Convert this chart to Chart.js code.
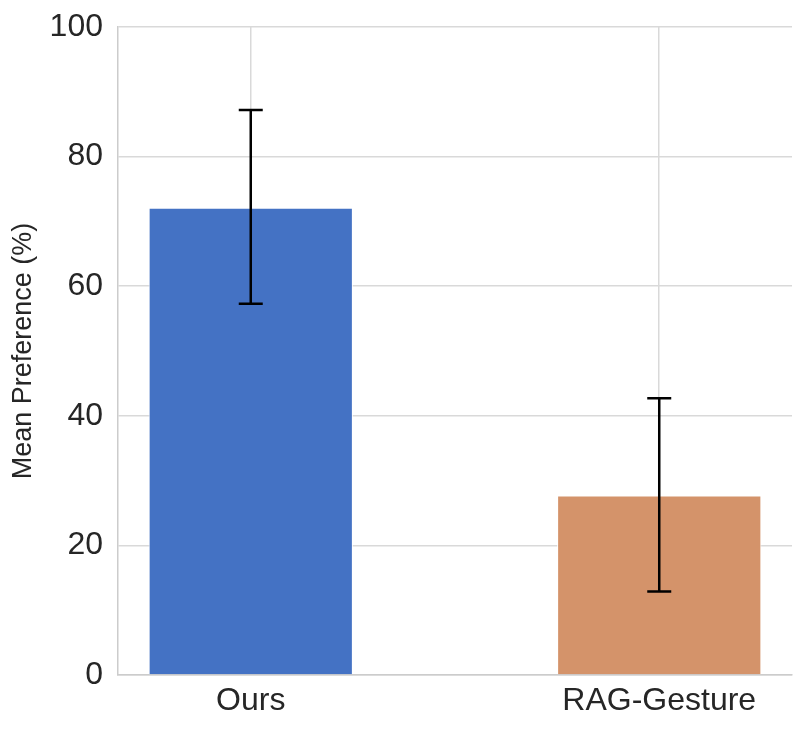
<!DOCTYPE html>
<html>
<head>
<meta charset="utf-8">
<script src="https://cdn.jsdelivr.net/npm/chart.js@4"></script>
<style>
  body { margin: 0; background: #fff; }
</style>
</head>
<body>
<canvas id="prefChart" width="806" height="736"></canvas>
<script>
var categories = ['Ours', 'RAG-Gesture'];
var means = [72.1, 27.7];
var errLow = [57.3, 12.9];
var errHigh = [87.2, 42.7];
var barColors = ['#4472C4', '#D4936A'];
var yTicks = [0, 20, 40, 60, 80, 100];

var textColor = '#262626';
var gridColor = '#d9d9d9';

// desenha as barras de erro por cima das barras
var errorBars = {
    id: 'errorBars',
    afterDatasetsDraw: function (chart) {
        var ctx = chart.ctx;
        var x = chart.scales.x;
        var y = chart.scales.y;
        ctx.save();
        ctx.strokeStyle = '#000';
        ctx.lineWidth = 2.5;
        for (var i = 0; i < categories.length; i++) {
            var px = x.getPixelForValue(i);
            var top = y.getPixelForValue(errHigh[i]);
            var bot = y.getPixelForValue(errLow[i]);
            ctx.beginPath();
            ctx.moveTo(px, top); ctx.lineTo(px, bot);
            ctx.moveTo(px - 12, top); ctx.lineTo(px + 12, top);
            ctx.moveTo(px - 12, bot); ctx.lineTo(px + 12, bot);
            ctx.stroke();
        }
        ctx.restore();
    }
};

var prefChart = new Chart(document.getElementById('prefChart').getContext('2d'), {
    type: 'bar',
    data: {
        datasets: [{
            data: means.map(function (v, i) { return { x: i, y: v }; }),
            backgroundColor: barColors,
            borderColor: '#ffffff',
            borderWidth: 1,
            barPercentage: 0.5,
            categoryPercentage: 1
        }]
    },
    options: {
        responsive: false,
        animation: false,
        layout: { padding: { top: 27, right: 14, left: 0, bottom: 0 } },
        plugins: {
            legend: { display: false },
            tooltip: { enabled: false }
        },
        scales: {
            x: {
                type: 'linear',
                offset: false,
                min: -0.325,
                max: 1.325,
                afterBuildTicks: function (scale) {
                    scale.ticks = categories.map(function (c, i) { return { value: i }; });
                },
                afterFit: function (scale) {
                    scale.height = 61;
                    scale.paddingLeft = 0;
                    scale.paddingRight = 0;
                },
                ticks: {
                    color: textColor,
                    font: { size: 32, family: 'Liberation Sans' },
                    padding: 7,
                    maxRotation: 0,
                    callback: function (value) { return categories[value]; }
                },
                grid: { color: gridColor, lineWidth: 1.5, drawTicks: false, offset: false },
                border: { display: true, color: '#cccccc', width: 1.5 }
            },
            y: {
                min: 0,
                max: 100,
                afterBuildTicks: function (scale) {
                    scale.ticks = yTicks.map(function (v) { return { value: v }; });
                },
                afterFit: function (scale) {
                    scale.width = 118;
                    scale.paddingTop = 0;
                    scale.paddingBottom = 0;
                },
                ticks: {
                    color: textColor,
                    font: { size: 32, family: 'Liberation Sans' },
                    padding: 15
                },
                title: {
                    display: true,
                    text: 'Mean Preference (%)',
                    color: textColor,
                    font: { size: 27, family: 'Liberation Sans' },
                    padding: { top: 7, bottom: 0 }
                },
                grid: { color: gridColor, lineWidth: 1.5, drawTicks: false },
                border: { display: true, color: '#cccccc', width: 1.5 }
            }
        }
    },
    plugins: [errorBars]
});
</script>
</body>
</html>
